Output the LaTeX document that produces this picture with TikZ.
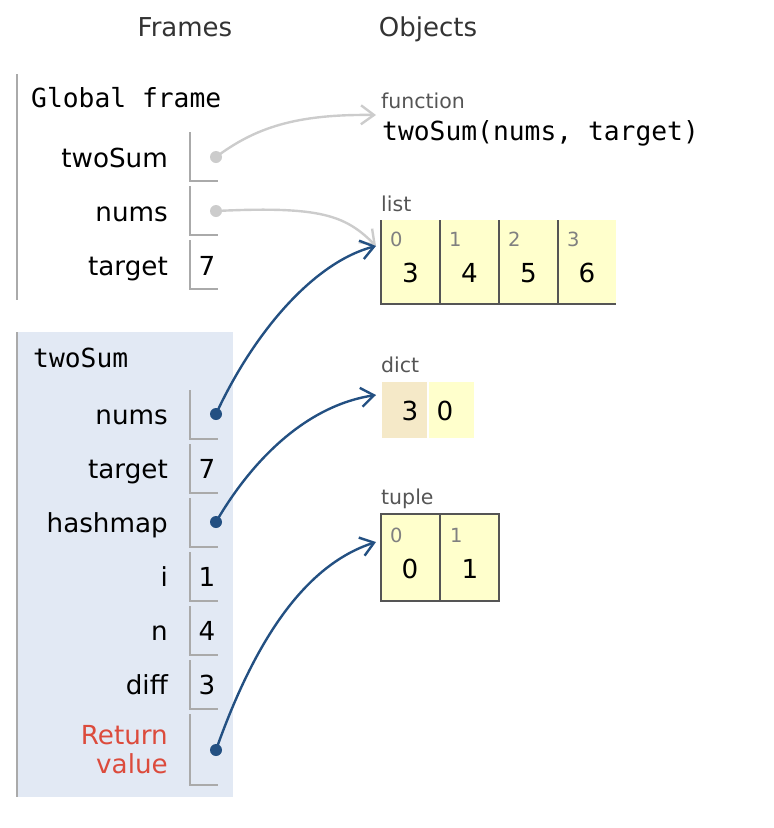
\documentclass[tikz,border=0pt]{standalone}
\usepackage{fontspec}
\setmainfont{DejaVu Sans}
\newfontfamily\monof{DejaVu Sans Mono}
\usetikzlibrary{arrows.meta}
\definecolor{framebg}{RGB}{226,233,244}
\definecolor{rowline}{RGB}{170,170,170}
\definecolor{heapbg}{RGB}{255,255,204}
\definecolor{keybg}{RGB}{245,233,200}
\definecolor{boxline}{RGB}{85,85,85}
\definecolor{ptrblue}{RGB}{35,80,130}
\definecolor{ptrgray}{RGB}{204,204,204}
\definecolor{retred}{RGB}{220,75,60}
\definecolor{labgray}{RGB}{85,85,85}
\definecolor{idxgray}{RGB}{128,128,128}
\definecolor{headcol}{RGB}{51,51,51}
\tikzset{
  head/.style={font=\fontsize{26}{30}\selectfont, text=headcol, anchor=base, inner sep=0pt},
  ftitle/.style={font=\monof\fontsize{26.3}{30}\selectfont, anchor=base west, inner sep=0pt},
  varname/.style={font=\fontsize{26.2}{30}\selectfont, anchor=base east, inner sep=0pt},
  varval/.style={font=\fontsize{26.2}{30}\selectfont, anchor=base, inner sep=0pt},
  objlab/.style={font=\fontsize{20.5}{24}\selectfont, text=labgray, anchor=base west, inner sep=0pt},
  idx/.style={font=\fontsize{19.5}{22}\selectfont, text=idxgray, anchor=base west, inner sep=0pt},
  cellval/.style={font=\fontsize{26.2}{30}\selectfont, anchor=base, inner sep=0pt},
  rowbox/.style={draw=rowline, line width=1.8pt},
  dotg/.style={circle, fill=ptrgray, inner sep=0pt, minimum size=12pt},
  dotb/.style={circle, fill=ptrblue, inner sep=0pt, minimum size=12pt},
  ptrg/.style={draw=ptrgray, line width=2.4pt, -{Straight Barb[length=13pt,width=19pt,line width=2.4pt]}},
  ptrb/.style={draw=ptrblue, line width=2.4pt, -{Straight Barb[length=13pt,width=19pt,line width=2.4pt]}},
}
\begin{document}
\begin{tikzpicture}[x=1pt,y=-1pt]
\useasboundingbox (0,0) rectangle (774,828);
% headings
\node[head] (hframes) at (185,36) {Frames};
\node[head] (hobjects) at (428,36) {Objects};
% global frame
\draw[draw=rowline, line width=2pt] (17,74) -- (17,300);
\node[ftitle] (gtitle) at (31,107) {Global frame};
% twoSum frame
\fill[framebg] (17,332) rectangle (233,797);
\draw[draw=rowline, line width=2pt] (17,332) -- (17,797);
\node[ftitle] (ftitle2) at (33,367) {twoSum};
% row boxes global
\foreach \t/\b in {132/181,186/235,240/289}{
  \draw[rowbox] (190,\t) -- (190,\b) -- (218,\b);
}
% row boxes local
\foreach \t/\b in {390/439,444/493,498/547,552/601,606/655,660/709,714/785}{
  \draw[rowbox] (190,\t) -- (190,\b) -- (218,\b);
}
% global names
\node[varname] (g1) at (168,167) {twoSum};
\node[varname] (g2) at (168,221) {nums};
\node[varname] (g3) at (168,275) {target};
\node[varval] (g3v) at (207,275) {7};
\node[dotg] (gd1) at (216,157) {};
\node[dotg] (gd2) at (216,211) {};
% local names
\node[varname] (l1) at (168,424) {nums};
\node[varname] (l2) at (168,478) {target};
\node[varval] (l2v) at (207,478) {7};
\node[varname] (l3) at (168,532) {hashmap};
\node[varname] (l4) at (168,586) {i};
\node[varval] (l4v) at (207,586) {1};
\node[varname] (l5) at (168,640) {n};
\node[varval] (l5v) at (207,640) {4};
\node[varname] (l6) at (168,694) {diff};
\node[varval] (l6v) at (207,694) {3};
\node[varname, text=retred] (l7a) at (168,744) {Return};
\node[varname, text=retred] (l7b) at (168,773) {value};
\node[dotb] (ld1) at (216,414) {};
\node[dotb] (ld3) at (216,522) {};
\node[dotb] (ld7) at (216,750) {};
% function object
\node[objlab] (funlab) at (381,108) {function};
\node[ftitle] (funtxt) at (382,140) {twoSum(nums, target)};
\coordinate (funtip) at (376,115);
% list object
\node[objlab] (listlab) at (381,211) {list};
\fill[heapbg] (381,220) rectangle (616,304);
\draw[draw=boxline, line width=2pt] (381,220) -- (381,304) -- (616,304);
\foreach \x in {440,499,558}{ \draw[draw=boxline, line width=2pt] (\x,220) -- (\x,304); }
\node[idx] (li0) at (390,246) {0};
\node[idx] (li1) at (449,246) {1};
\node[idx] (li2) at (508,246) {2};
\node[idx] (li3) at (567,246) {3};
\node[cellval] (lv0) at (410.5,282) {3};
\node[cellval] (lv1) at (469.5,282) {4};
\node[cellval] (lv2) at (528.5,282) {5};
\node[cellval] (lv3) at (587,282) {6};
\coordinate (listtip) at (376,246);
% dict object
\node[objlab] (dictlab) at (381,372) {dict};
\fill[keybg] (382,382) rectangle (427,438);
\fill[heapbg] (429,382) rectangle (474,438);
\node[cellval] (dk) at (410,420) {3};
\node[cellval] (dv) at (445,420) {0};
\coordinate (dicttip) at (376,395);
% tuple object
\node[objlab] (tuplab) at (381,504) {tuple};
\draw[draw=boxline, fill=heapbg, line width=2pt] (381,514) rectangle (499,601);
\draw[draw=boxline, line width=2pt] (440,514) -- (440,601);
\node[idx] (ti0) at (390,542) {0};
\node[idx] (ti1) at (450,542) {1};
\node[cellval] (tv0) at (410,578) {0};
\node[cellval] (tv1) at (470,578) {1};
\coordinate (tuptip) at (376,542);
% pointers
\draw[ptrg] (gd1.center) .. controls (255,128) and (295,114) .. (funtip);
\draw[ptrg] (gd2.center) .. controls (320,206) and (345,215) .. (listtip);
\draw[ptrb] (ld1.center) .. controls (255,330) and (315,262) .. (listtip);
\draw[ptrb] (ld3.center) .. controls (255,455) and (310,405) .. (dicttip);
\draw[ptrb] (ld7.center) .. controls (255,640) and (305,565) .. (tuptip);
\end{tikzpicture}
\end{document}
